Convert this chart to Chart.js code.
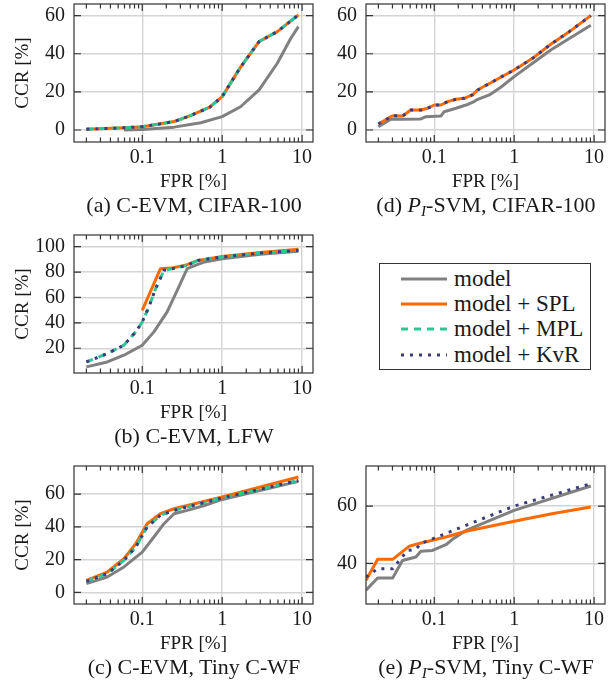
<!DOCTYPE html>
<html lang="en">
<head>
    <meta charset="UTF-8">
    <title>CCR vs FPR</title>
    <script src="https://cdn.jsdelivr.net/npm/chart.js"></script>
    <style>
        * { margin: 0; padding: 0; box-sizing: border-box; }
        body { width: 613px; height: 680px; position: relative; background: #fff;
               font-family: "Liberation Serif", "DejaVu Serif", serif; color: #1a1a1a; }
        canvas { position: absolute; }
        .cap { position: absolute; width: 320px; text-align: center; font-size: 22px; line-height: 24px; white-space: nowrap; }
        .cap sub { font-size: 0.7em; line-height: 0; vertical-align: -0.25em; }
        #legend { position: absolute; left: 379px; top: 263px; width: 212px; height: 107px; border: 1.3px solid #333; }
        .row { position: absolute; left: 0; height: 24px; line-height: 24px; font-size: 23px; white-space: nowrap; }
        .row svg { position: absolute; left: 21px; top: 0; }
        .row span { position: absolute; left: 74px; top: 0; }
    </style>
</head>
<body>
    <canvas id="chartA" width="319" height="193" style="left:0;top:0"></canvas>
    <canvas id="chartD" width="319" height="193" style="left:292px;top:0"></canvas>
    <canvas id="chartB" width="319" height="193" style="left:0;top:231px"></canvas>
    <canvas id="chartC" width="319" height="193" style="left:0;top:462px"></canvas>
    <canvas id="chartE" width="319" height="193" style="left:292px;top:462px"></canvas>

    <div class="cap" style="left:34px;top:193px">(a) C-EVM, CIFAR-100</div>
    <div class="cap" style="left:326px;top:193px">(d) <i>P<sub>I</sub></i>-SVM, CIFAR-100</div>
    <div class="cap" style="left:34px;top:424px">(b) C-EVM, LFW</div>
    <div class="cap" style="left:34px;top:655px">(c) C-EVM, Tiny C-WF</div>
    <div class="cap" style="left:326px;top:655px">(e) <i>P<sub>I</sub></i>-SVM, Tiny C-WF</div>

    <div id="legend"></div>

    <script>
        // ---- data (FPR in %, CCR in %) ----
        const xTicks = [0.1, 1, 10];
        const xMin = 0.014, xMax = 13.7;

        // (a) C-EVM, CIFAR-100
        const aModelX = [0.059, 0.1, 0.25, 0.54, 1, 1.7, 2.9, 4.9, 7.2, 9];
        const aModelY = [0, 0.2, 1.5, 3.8, 7, 12.2, 21, 35, 48, 54.2];
        const aPlusX = [0.02, 0.05, 0.1, 0.25, 0.4, 0.7, 1, 1.7, 2.9, 4.9, 9];
        const aPlusY = [0.4, 1.0, 1.7, 4.4, 7.5, 12, 17.5, 33, 46.4, 51.6, 60.4];
        const aTicks = [0, 20, 40, 60];

        // (d) P_I-SVM, CIFAR-100
        const dModelX = [0.02, 0.0287, 0.04, 0.068, 0.079, 0.121, 0.133, 0.187, 0.25, 0.316, 0.35, 0.49, 0.68, 1, 1.7, 2.87, 4.9, 9.1];
        const dModelY = [1.7, 5.6, 5.6, 5.8, 7, 7.3, 9.6, 11.4, 13.1, 14.9, 16.1, 18.4, 22.4, 28, 35, 42, 48, 55];
        const dPlusX = [0.02, 0.03, 0.04, 0.051, 0.068, 0.083, 0.1, 0.121, 0.147, 0.187, 0.237, 0.3, 0.35, 0.4, 0.51, 0.68, 1, 1.7, 2.87, 4.9, 9.1];
        const dPlusY = [3.1, 7.5, 7.3, 10.5, 10.5, 11.4, 13.1, 13.1, 14.9, 16.1, 16.6, 18.4, 21, 22.4, 24.8, 27.7, 31.5, 37.6, 45, 51.6, 60];
        const dTicks = [0, 20, 40, 60];

        // (b) C-EVM, LFW
        const bModelX = [0.02, 0.0365, 0.059, 0.1, 0.14, 0.205, 0.274, 0.365, 0.6, 1, 3, 9];
        const bModelY = [5.3, 9.2, 14.5, 22.4, 32.9, 48.6, 65.6, 82.7, 88, 90.5, 94, 96.3];
        const bSplX = [0.1, 0.169, 0.25, 0.365, 0.5, 1, 3, 9];
        const bSplY = [49.9, 82.7, 83.5, 85.8, 89.2, 92.3, 95.5, 98];
        const bPlusX = [0.02, 0.0365, 0.059, 0.083, 0.1, 0.121, 0.147, 0.187, 0.25, 0.365, 0.5, 1, 3, 9];
        const bPlusY = [9.2, 15.8, 22.4, 32.9, 40.7, 52.5, 67, 81.4, 83, 85.3, 89.2, 91.9, 95, 97.1];
        const bTicks = [20, 40, 60, 80, 100];

        // (c) C-EVM, Tiny C-WF
        const cModelX = [0.02, 0.0365, 0.059, 0.1, 0.14, 0.187, 0.25, 0.365, 0.6, 1, 9];
        const cModelY = [5.3, 9.4, 15.5, 24.6, 33.8, 41.9, 48, 50, 53, 56.7, 67.7];
        const cSplX = [0.02, 0.0365, 0.059, 0.083, 0.115, 0.169, 0.25, 1, 9];
        const cSplY = [7.3, 12.4, 20.5, 29.7, 41.9, 48, 51, 58.2, 70.4];
        const cPlusX = [0.02, 0.0365, 0.059, 0.083, 0.115, 0.169, 0.25, 1, 9];
        const cPlusY = [6.7, 11.4, 19.5, 27.7, 39.9, 47, 50, 57.6, 68.3];
        const cTicks = [0, 20, 40, 60];

        // (e) P_I-SVM, Tiny C-WF
        const eModelX = [0.014, 0.0196, 0.0302, 0.04, 0.059, 0.068, 0.095, 0.14, 0.169, 0.25, 1, 9.1];
        const eModelY = [30.6, 34.9, 34.9, 41, 42.2, 44.2, 44.5, 46.5, 48.4, 51.5, 58.5, 67];
        const eSplX = [0.014, 0.0196, 0.0302, 0.0487, 0.068, 0.14, 0.25, 1, 2.97, 9.1];
        const eSplY = [34.1, 41.4, 41.4, 46, 47.1, 49.2, 51.2, 54.7, 57.3, 59.7];
        const eKvrX = [0.014, 0.0196, 0.0302, 0.0365, 0.0464, 0.059, 0.068, 0.1, 0.25, 1, 9.1];
        const eKvrY = [35.2, 38.1, 38.1, 41, 44.5, 44.9, 46.9, 48.8, 53.3, 60, 67.8];
        const eTicks = [40, 60];

        // ---- styling ----
        Chart.defaults.font.family = '"Liberation Serif", serif';
        Chart.defaults.font.size = 20;
        Chart.defaults.color = '#1a1a1a';

        const series = {
            model: { label: 'model', borderColor: '#808080', order: 4 },
            spl:   { label: 'model + SPL', borderColor: '#ff6a00', order: 3 },
            mpl:   { label: 'model + MPL', borderColor: '#2ac795', borderDash: [7, 6], order: 2 },
            kvr:   { label: 'model + KvR', borderColor: '#3c3c7c', borderDash: [3, 6], order: 1 }
        };

        function pts(xs, ys) {
            return xs.map((x, i) => ({ x: x, y: ys[i] }));
        }

        function ds(key, xs, ys) {
            return Object.assign({
                data: pts(xs, ys),
                borderWidth: 3,
                pointRadius: 0,
                tension: 0,
                fill: false,
                borderJoinStyle: 'round',
                clip: 0
            }, series[key]);
        }

        // box with inward ticks on all four sides, like the pgfplots original
        const frame = {
            id: 'frame',
            afterDatasetsDraw(chart) {
                const { ctx, chartArea: a, scales: { x, y } } = chart;
                ctx.save();
                ctx.strokeStyle = '#333';
                ctx.lineWidth = 1.2;
                ctx.beginPath();
                for (let e = -2; e <= 1; e++) {
                    for (let k = 1; k <= 9; k++) {
                        const v = k * Math.pow(10, e);
                        if (v < x.min || v > x.max) continue;
                        const px = x.getPixelForValue(v);
                        const len = k === 1 ? 7 : 4.5;
                        ctx.moveTo(px, a.bottom); ctx.lineTo(px, a.bottom - len);
                        ctx.moveTo(px, a.top); ctx.lineTo(px, a.top + len);
                    }
                }
                y.ticks.forEach(t => {
                    const py = y.getPixelForValue(t.value);
                    ctx.moveTo(a.left, py); ctx.lineTo(a.left + 7, py);
                    ctx.moveTo(a.right, py); ctx.lineTo(a.right - 7, py);
                });
                ctx.stroke();
                ctx.strokeRect(a.left, a.top, a.right - a.left, a.bottom - a.top);
                ctx.restore();
            }
        };

        function makeChart(id, datasets, yMin, yMax, yTicks, showTitle) {
            return new Chart(document.getElementById(id), {
                type: 'line',
                data: { datasets: datasets },
                plugins: [frame],
                options: {
                    responsive: false,
                    animation: false,
                    layout: { padding: { left: 0, top: 4, right: 6, bottom: 0 } },
                    plugins: { legend: { display: false }, tooltip: { enabled: false } },
                    scales: {
                        x: {
                            type: 'logarithmic',
                            min: xMin,
                            max: xMax,
                            afterBuildTicks: s => { s.ticks = xTicks.map(v => ({ value: v, major: true })); },
                            afterFit: s => { s.height = 51; s.paddingLeft = 0; s.paddingRight = 0; },
                            ticks: { padding: 4, autoSkip: false, maxRotation: 0, callback: v => String(v) },
                            grid: { color: '#d4d4d4', lineWidth: 1.4, drawTicks: false },
                            border: { display: false },
                            title: { display: true, text: 'FPR [%]', padding: 0, font: { size: 19 } }
                        },
                        y: {
                            type: 'linear',
                            min: yMin,
                            max: yMax,
                            afterBuildTicks: s => { s.ticks = yTicks.map(v => ({ value: v })); },
                            afterFit: s => { s.width = 74; s.paddingTop = 0; s.paddingBottom = 0; },
                            ticks: { padding: 9 },
                            grid: { color: '#d4d4d4', lineWidth: 1.4, drawTicks: false },
                            border: { display: false },
                            title: { display: showTitle, text: 'CCR [%]', padding: { top: 12, bottom: 0 }, font: { size: 19 } }
                        }
                    }
                }
            });
        }

        makeChart('chartA', [
            ds('model', aModelX, aModelY),
            ds('spl', aPlusX, aPlusY),
            ds('mpl', aPlusX, aPlusY),
            ds('kvr', aPlusX, aPlusY)
        ], -6.3, 66.1, aTicks, true);

        makeChart('chartD', [
            ds('model', dModelX, dModelY),
            ds('spl', dPlusX, dPlusY),
            ds('kvr', dPlusX, dPlusY)
        ], -6.3, 66.1, dTicks, false);

        makeChart('chartB', [
            ds('model', bModelX, bModelY),
            ds('spl', bSplX, bSplY),
            ds('mpl', bPlusX, bPlusY),
            ds('kvr', bPlusX, bPlusY)
        ], 0.5, 109.2, bTicks, true);

        makeChart('chartC', [
            ds('model', cModelX, cModelY),
            ds('spl', cSplX, cSplY),
            ds('mpl', cPlusX, cPlusY),
            ds('kvr', cPlusX, cPlusY)
        ], -7.1, 77.1, cTicks, true);

        makeChart('chartE', [
            ds('model', eModelX, eModelY),
            ds('spl', eSplX, eSplY),
            ds('kvr', eKvrX, eKvrY)
        ], 25.8, 74, eTicks, false);

        // legend box (shared by all panels)
        const legend = document.getElementById('legend');
        const rowY = [3.3, 28.3, 53.3, 79];
        ['model', 'spl', 'mpl', 'kvr'].forEach((key, i) => {
            const s = series[key];
            const dash = s.borderDash ? ' stroke-dasharray="' + s.borderDash.join(' ') + '"' : '';
            const row = document.createElement('div');
            row.className = 'row';
            row.style.top = rowY[i] + 'px';
            row.innerHTML = '<svg width="46" height="24"><line x1="0" y1="12" x2="46" y2="12" stroke="' +
                s.borderColor + '" stroke-width="3"' + dash + '/></svg><span>' + s.label + '</span>';
            legend.appendChild(row);
        });
    </script>
</body>
</html>
